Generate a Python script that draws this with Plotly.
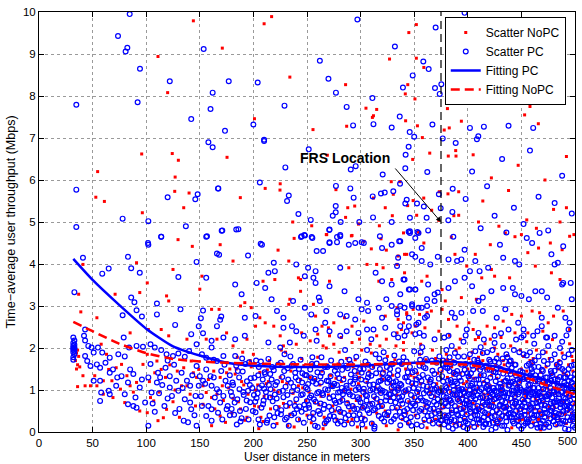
import plotly.graph_objects as go

# ---------------- data (distance in m, throughput in Mbps) ----------------
# Fitting curves
fit_x = [32, 50, 75, 100, 125, 150, 175, 200, 250, 300, 350, 375, 400, 425, 450, 475, 500]
fit_pc = [4.12, 3.62, 3.02, 2.46, 2.04, 1.82, 1.65, 1.58, 1.55, 1.58, 1.65, 1.67, 1.64, 1.56, 1.4, 1.22, 1.02]
fit_nopc = [2.62, 2.4, 2.1, 1.88, 1.74, 1.68, 1.65, 1.63, 1.61, 1.61, 1.63, 1.63, 1.6, 1.49, 1.33, 1.1, 0.9]

frs_x = 375
frs_arrow_y = 5.0
frs_label = "FRS Location"

# Scatter PC (blue circles): far outliers
pc_far = [(84.6, 9.95), (73.7, 9.43), (82.4, 9.15), (80.8, 9.06), (153.6, 9.12), (94.2, 8.65), (122, 8.35),
          (162, 8.08), (34.8, 7.79), (92, 7.85), (160, 7.69), (142, 7.45), (297, 9.82), (332, 9.18),
          (262, 8.84), (177, 8.35), (204, 8.32), (270, 8.41), (277, 8.08), (229, 7.77), (311, 7.95),
          (287, 7.74), (312, 7.33), (200, 7.32), (173.5, 7.17), (293, 7.3), (329, 7.25), (210, 6.96),
          (397, 9.98), (370, 9.63), (358.5, 8.82), (363.5, 8.64), (348.6, 8.49), (339.5, 8.2),
          (369.4, 8.19), (375.3, 8.28), (397, 8.3), (373.8, 8.05), (427, 7.87), (479.8, 8.23),
          (461, 7.24), (336.5, 7.51), (367, 7.32), (415, 7.27), (402, 7.24), (438, 7.29), (345.8, 7.14),
          (350, 7.03), (376.6, 6.99), (409.8, 7.04), (408.5, 6.97),
          (158, 6.9), (162, 6.78), (34.8, 5.77), (120, 5.59), (148, 5.66), (145.8, 5.54), (167, 5.8),
          (78, 5.08), (102, 5.02), (137, 4.9), (34.8, 4.88), (114, 4.65), (156.7, 4.66), (101.7, 4.5),
          (210, 6.93), (251.6, 6.73), (229.8, 6.3), (290.8, 6.25), (295.4, 6.33), (320.6, 6.13),
          (167.3, 5.8), (206, 5.94), (233, 5.63), (231.4, 5.5), (277, 5.86), (290.4, 5.8), (293.5, 5.58),
          (276.8, 5.38), (276.8, 5.23), (274, 5.15), (281.4, 5.0), (242, 5.19), (253.5, 5.05),
          (170.4, 4.79), (186, 4.83), (270.8, 4.81), (281, 4.69), (278, 4.64), (254.4, 4.64), (244.4, 4.64),
          (247.5, 4.69), (271, 4.52), (301, 4.52), (206.8, 4.48), (298.8, 5.0), (311.6, 5.11), (329, 5.0),
          (311.3, 5.61), (319, 5.68), (322.5, 5.7), (330.5, 5.73),
          (344.8, 6.79), (342, 6.6), (388.7, 6.88), (341.7, 6.28), (362.2, 6.19), (336.8, 5.91), (343, 5.53),
          (341.7, 5.44), (352.6, 5.44), (359, 5.37), (361.6, 5.1), (374.7, 5.33), (373, 5.66), (385.9, 5.79),
          (381.8, 5.04), (385.6, 5.24), (346, 5.1), (353, 4.76), (363, 4.8), (344.8, 4.77), (386.5, 4.65),
          (404, 6.2), (418, 5.85), (432, 6.5), (443, 5.34), (452, 4.95), (466, 5.6), (475, 4.8), (488, 6.1),
          (497, 5.2), (412, 4.85), (425, 5.15), (458, 6.7), (481, 5.45), (398, 5.55), (436, 4.75)]

# Scatter PC: middle band (about 2 - 4.8 Mbps)
pc_mid = [(33, 3.33), (41, 4.15), (59, 3.77), (65, 3.89), (83, 4.17), (86, 3.9), (94, 3.79), (86, 3.2), (89, 3.09),
          (102, 4.46), (114, 4.65), (130, 3.69), (110, 3.06), (110, 2.8), (96, 2.75), (78, 2.78), (91, 2.9),
          (147, 4.05), (156, 4.65), (171, 4.8), (132, 2.92), (127, 2.55), (153, 2.89), (151, 2.71), (149, 2.52),
          (153, 2.35), (166, 2.52), (169, 2.67), (170, 2.75), (161, 2.17), (172, 2.25), (142, 2.33), (156, 3.67),
          (166, 4.25), (168, 4.22), (43, 2.44), (42, 2.29), (43, 2.18), (46, 2.05), (49, 2.01), (55, 2.01),
          (79, 2.25), (84, 2.01), (91, 2.05), (97, 2.03), (104, 2.09), (108, 2.01), (147, 2.09), (161, 2.01),
          (184, 4.82), (208, 4.46), (195, 4.2), (245, 4.66), (248, 4.68), (255, 4.62), (271, 4.82), (281, 4.66),
          (278, 4.52), (259, 4.31), (265, 4.31), (271, 4.5), (289, 4.46), (295, 4.5), (303, 4.5), (318, 4.66),
          (320, 4.38), (329, 4.46), (337, 4.54), (346, 4.74), (351, 4.62), (354, 4.74), (348, 4.23), (357, 4.07),
          (335, 4.15), (219, 4.03), (214, 3.79), (220, 3.83), (240, 3.99), (251, 3.91), (258, 3.83), (256, 3.67),
          (258, 3.55), (248, 3.71), (281, 3.91), (285, 3.35), (271, 3.47), (261, 3.2), (314, 3.79), (320, 3.59),
          (329, 3.51), (340, 3.63), (346, 3.39), (351, 3.39), (363, 3.51), (183, 3.51), (189, 3.28), (203, 3.55),
          (211, 3.43), (217, 3.16), (237, 3.12), (248, 2.96), (254, 2.8), (262, 3.12), (268, 2.88), (281, 2.8),
          (287, 2.76), (295, 2.68), (301, 2.92), (306, 3.08), (307, 2.88), (298, 3.16), (317, 2.96), (320, 2.72),
          (324, 3.16), (329, 3.0), (334, 2.88), (341, 2.96), (348, 3.04), (357, 2.96), (362, 2.76), (354, 2.6),
          (345, 2.52), (337, 2.52), (202, 2.76), (192, 2.72), (222, 2.88), (228, 2.72), (228, 2.48), (236, 2.52),
          (240, 2.4), (247, 2.29), (258, 2.44), (267, 2.6), (271, 2.4), (281, 2.29), (287, 2.4), (298, 2.36),
          (306, 2.44), (312, 2.44), (310, 2.21), (323, 2.48), (331, 2.33), (335, 2.25), (343, 2.4), (351, 2.33),
          (359, 2.29), (183, 2.21), (192, 2.29), (214, 2.13), (225, 2.01), (234, 2.13), (259, 2.17),
          (346, 4.78), (336, 4.54), (357, 4.38), (351, 4.17), (334, 3.95), (365, 3.99), (372, 4.17), (382, 4.11),
          (390, 4.07), (394, 4.11), (397, 4.34), (407, 4.07), (402, 3.83), (411, 3.83), (419, 3.91), (430, 4.46),
          (433, 4.15), (444, 4.07), (448, 3.99), (455, 4.62), (460, 4.5), (467, 4.74), (478, 4.23), (481, 3.99),
          (484, 4.03), (489, 4.42), (489, 3.55), (496, 3.55), (497, 3.16), (341, 3.63), (337, 3.28), (345, 3.39),
          (351, 3.39), (362, 3.16), (369, 3.28), (372, 3.32), (369, 3.12), (382, 3.43), (388, 3.59), (397, 3.67),
          (404, 3.47), (410, 3.12), (414, 3.2), (422, 3.35), (433, 3.43), (442, 3.43), (444, 3.28), (450, 3.24),
          (457, 3.16), (463, 3.35), (469, 3.35), (474, 3.2), (488, 3.51), (348, 3.0), (354, 2.96), (362, 3.0),
          (337, 3.0), (334, 2.8), (345, 2.72), (352, 2.56), (360, 2.72), (385, 2.84), (388, 2.72), (394, 2.84),
          (399, 2.44), (405, 2.88), (414, 2.88), (427, 2.72), (435, 2.92), (438, 2.44), (447, 2.6), (452, 2.44),
          (469, 2.52), (469, 2.72), (484, 2.96), (491, 2.72), (494, 2.44), (495, 2.6), (481, 2.29), (474, 2.25),
          (461, 2.29), (450, 2.25), (425, 2.29), (410, 2.36), (382, 2.29), (369, 2.21), (355, 2.36), (341, 2.29)]

# Scatter PC: near users (x < 180)
pc_near = [(32, 1.72), (32, 1.78), (33, 1.85), (32, 1.9), (33, 1.93), (32, 1.96), (33, 1.98), (32, 2.0),
           (33, 2.02), (32, 2.05), (33, 2.08), (32, 2.12), (33, 2.18), (32, 2.25),
           (43, 1.81), (45, 1.69), (48, 1.57), (51, 1.89), (54, 1.61), (57, 1.53), (59, 1.89), (62, 1.65),
           (66, 1.77), (74, 1.85), (80, 1.8), (114, 1.95), (119, 1.85), (125, 1.81), (130, 1.87), (136, 1.79),
           (140, 1.93), (152, 1.85), (156, 1.77), (166, 1.69), (172, 1.81), (51, 1.22), (57, 1.22), (58, 0.94),
           (65, 0.98), (66, 0.9), (57, 0.74), (72, 1.1), (77, 1.33), (73, 1.3), (69, 1.49), (66, 1.41), (85, 1.49),
           (83, 1.18), (80, 0.9), (83, 0.66), (88, 0.62), (91, 0.58), (90, 0.82), (94, 1.06), (99, 0.7),
           (102, 0.15), (105, 0.94), (110, 1.18), (113, 1.3), (111, 1.41), (118, 1.53), (122, 1.33), (122, 1.06),
           (124, 0.86), (130, 0.98), (128, 1.22), (133, 1.41), (138, 1.22), (141, 1.1), (136, 0.78), (141, 0.7),
           (142, 0.54), (135, 0.27), (139, 0.23), (147, 0.15), (146, 0.86), (149, 1.1), (153, 1.22), (150, 1.33),
           (156, 1.49), (160, 1.33), (161, 1.1), (166, 1.02), (164, 0.82), (169, 0.7), (172, 0.86), (174, 1.22),
           (161, 0.54), (167, 0.46), (175, 0.54), (156, 0.38), (161, 0.27), (147, 1.57), (96, 1.25), (104, 1.62),
           (88, 1.38), (117, 0.62), (127, 0.45), (108, 0.48), (152, 0.62), (170, 1.45), (163, 1.72),
           (102, 1.3), (106, 0.68), (112, 0.92), (115, 1.12), (120, 0.8), (126, 1.6), (131, 0.55), (134, 1.05),
           (143, 1.35), (145, 0.4), (151, 0.85), (155, 1.15), (158, 0.62), (163, 1.3), (168, 0.95), (171, 0.3),
           (173, 1.6), (176, 1.1), (178, 0.4), (120, 1.7)]

# Scatter PC: dense cloud (x 175 - 500), first reading
pc_dense = [(176, 0.62), (178, 1.35), (179, 0.95), (181, 1.12), (182, 0.41), (184, 1.58), (185, 0.78), (187, 1.02),
            (188, 0.25), (190, 1.44), (191, 0.88), (193, 0.55), (194, 1.21), (196, 1.66), (197, 0.71), (199, 1.05),
            (183, 1.81), (189, 0.33), (195, 0.98), (180, 0.86),
            (201, 1.29), (202, 0.47), (204, 0.92), (205, 1.55), (206, 0.18), (208, 1.11), (209, 0.66), (211, 1.38),
            (212, 0.84), (214, 1.74), (215, 0.39), (216, 1.02), (218, 0.73), (219, 1.47), (221, 0.58), (222, 1.19),
            (224, 0.95), (203, 0.81), (207, 1.68), (213, 0.28), (217, 1.25), (220, 0.89), (223, 1.6), (210, 1.03),
            (226, 0.52), (227, 1.31), (228, 0.83), (230, 1.08), (231, 0.34), (232, 1.52), (234, 0.69), (235, 1.17),
            (236, 0.97), (238, 0.44), (239, 1.41), (240, 0.78), (242, 1.23), (243, 0.61), (244, 1.72), (246, 0.9),
            (247, 0.22), (248, 1.36), (249, 1.06), (229, 1.85), (233, 0.15), (237, 1.62), (241, 1.0), (245, 0.48),
            (250, 0.74),
            (251, 1.14), (252, 0.58), (253, 1.49), (254, 0.87), (256, 0.31), (257, 1.27), (258, 0.72), (259, 1.63),
            (261, 0.95), (262, 0.43), (263, 1.18), (264, 1.41), (266, 0.65), (267, 1.02), (268, 0.26), (269, 1.55),
            (271, 0.81), (272, 1.33), (273, 0.52), (274, 1.09), (255, 1.78), (260, 0.12), (265, 0.88), (270, 1.21),
            (275, 0.37),
            (276, 1.46), (277, 0.69), (278, 1.12), (279, 0.94), (281, 0.48), (282, 1.67), (283, 0.76), (284, 1.25),
            (286, 0.33), (287, 1.04), (288, 1.52), (289, 0.61), (290, 0.89), (291, 1.37), (292, 0.2), (293, 1.15),
            (294, 0.55), (296, 1.79), (297, 0.83), (298, 1.06), (299, 0.42), (280, 1.28), (285, 0.98), (295, 1.3),
            (300, 0.71),
            (301, 1.41), (302, 0.58), (303, 1.03), (304, 0.29), (305, 1.22), (306, 0.86), (307, 1.6), (308, 0.45),
            (309, 0.99), (310, 1.34), (311, 0.67), (312, 1.13), (313, 0.13), (314, 1.85), (315, 0.79), (316, 1.08),
            (317, 0.38), (318, 1.5), (319, 0.93), (320, 0.62), (321, 1.26), (322, 0.25), (323, 1.71), (324, 0.84),
            (325, 1.17), (312, 0.52), (318, 1.02), (306, 1.95),
            (326, 0.47), (327, 1.38), (328, 0.73), (329, 1.05), (330, 1.62), (331, 0.31), (332, 0.95), (333, 1.21),
            (334, 0.58), (335, 1.47), (336, 0.82), (337, 0.16), (338, 1.12), (339, 0.67), (340, 1.78), (341, 0.41),
            (342, 0.99), (343, 1.31), (344, 0.74), (345, 0.22), (346, 1.55), (347, 0.88), (348, 1.16), (349, 0.52),
            (350, 1.92), (331, 1.1), (338, 0.35), (344, 1.42), (328, 0.9), (336, 1.68),
            (351, 0.63), (352, 1.25), (353, 0.37), (354, 1.02), (355, 1.58), (356, 0.81), (357, 0.14), (358, 1.36),
            (359, 0.92), (360, 0.49), (361, 1.74), (362, 1.08), (363, 0.69), (364, 0.27), (365, 1.19), (366, 0.85),
            (367, 1.46), (368, 0.56), (369, 1.01), (370, 0.33), (371, 1.65), (372, 0.78), (373, 1.27), (374, 0.44),
            (375, 0.97), (356, 1.9), (362, 0.6), (368, 1.12), (373, 0.2), (358, 0.75), (366, 0.4),
            (376, 1.33), (377, 0.61), (378, 0.18), (379, 1.09), (380, 0.82), (381, 1.52), (382, 0.39), (383, 0.95),
            (384, 1.24), (385, 0.69), (386, 0.08), (387, 1.41), (388, 0.88), (389, 0.51), (390, 1.16), (391, 1.79),
            (392, 0.74), (393, 0.29), (394, 1.02), (395, 1.38), (396, 0.57), (397, 0.93), (398, 1.62), (399, 0.42),
            (400, 1.11), (378, 0.98), (383, 0.25), (388, 1.2), (392, 1.0), (397, 0.32), (380, 1.95), (395, 0.78),
            (385, 0.45), (399, 0.86), (377, 1.7),
            (401, 0.66), (402, 1.27), (403, 0.35), (404, 0.91), (405, 1.49), (406, 0.12), (407, 0.78), (408, 1.06),
            (409, 1.71), (410, 0.54), (411, 0.97), (412, 1.35), (413, 0.27), (414, 0.83), (415, 1.15), (416, 0.46),
            (417, 1.58), (418, 0.71), (419, 1.02), (420, 0.19), (421, 1.29), (422, 0.62), (423, 0.89), (424, 1.44),
            (425, 0.38), (403, 1.1), (407, 0.5), (411, 0.22), (414, 1.88), (418, 1.22), (422, 0.05), (405, 0.85),
            (409, 0.4), (416, 0.95), (420, 0.75), (424, 1.05), (402, 0.55), (413, 0.6), (419, 0.3), (425, 0.98),
            (426, 1.21), (427, 0.52), (428, 0.86), (429, 1.64), (430, 0.31), (431, 1.07), (432, 0.73), (433, 1.39),
            (434, 0.15), (435, 0.94), (436, 0.6), (437, 1.28), (438, 0.43), (439, 1.12), (440, 0.8), (441, 1.53),
            (442, 0.25), (443, 0.99), (444, 0.67), (445, 1.34), (446, 0.36), (447, 0.9), (448, 1.19), (449, 0.55),
            (450, 0.08), (428, 0.2), (432, 1.0), (436, 1.85), (440, 0.45), (444, 1.15), (448, 0.7), (430, 0.65),
            (434, 0.85), (438, 1.6), (442, 0.6), (446, 1.05), (427, 0.95), (439, 0.35), (449, 1.45), (435, 0.48),
            (441, 0.98), (447, 0.28),
            (451, 0.77), (452, 1.26), (453, 0.41), (454, 0.96), (455, 1.58), (456, 0.23), (457, 0.85), (458, 1.13),
            (459, 0.58), (460, 1.42), (461, 0.34), (462, 0.92), (463, 1.2), (464, 0.69), (465, 0.1), (466, 1.05),
            (467, 0.5), (468, 1.36), (469, 0.81), (470, 0.27), (471, 1.69), (472, 0.63), (473, 1.01), (474, 0.45),
            (475, 1.18), (453, 0.7), (457, 0.3), (461, 1.05), (465, 0.88), (469, 0.42), (473, 0.18), (455, 1.0),
            (459, 0.9), (463, 0.5), (467, 0.95), (471, 1.2), (475, 0.6), (452, 0.15), (458, 0.62), (466, 1.55),
            (470, 0.75), (474, 1.3), (456, 1.25), (462, 0.4), (468, 0.2),
            (476, 0.88), (477, 0.32), (478, 1.22), (479, 0.57), (480, 0.99), (481, 1.46), (482, 0.18), (483, 0.74),
            (484, 1.08), (485, 0.43), (486, 1.31), (487, 0.66), (488, 0.95), (489, 0.27), (490, 1.17), (491, 0.79),
            (492, 0.51), (493, 1.38), (494, 0.06), (495, 0.86), (496, 1.04), (497, 0.36), (498, 0.68), (499, 1.25),
            (500, 0.47), (478, 0.5), (482, 0.9), (486, 0.2), (490, 0.62), (494, 1.0), (498, 0.15), (480, 0.7),
            (484, 0.3), (488, 1.5), (492, 0.9), (496, 0.58), (477, 1.05), (481, 0.38), (485, 0.8), (489, 1.1),
            (493, 0.72), (497, 0.98), (499, 0.35), (483, 1.6), (491, 0.25),
            (380, 1.62), (390, 1.45), (402, 1.85), (410, 1.65), (418, 1.9), (427, 1.75), (433, 2.05), (440, 1.7),
            (448, 1.9), (455, 1.82), (462, 2.1), (470, 1.9), (478, 1.72), (486, 2.0), (494, 1.85), (499, 1.6),
            (385, 2.05), (396, 2.15), (412, 2.02), (425, 2.12), (445, 2.2), (460, 1.65), (475, 2.05), (490, 1.78)]

# Scatter PC: dense cloud, second reading
pc_dense2 = [(180.5, 1.18), (182.5, 0.7), (185.5, 1.45), (187.5, 0.5), (190.5, 0.95), (192.5, 1.62), (195.5, 0.3),
             (197.5, 1.28), (200.5, 0.88), (202.5, 1.7), (205.5, 1.05), (207.5, 0.58), (210.5, 1.42), (212.5, 0.22),
             (215.5, 0.82), (217.5, 1.55), (220.5, 1.12), (222.5, 0.45), (225.5, 1.65), (227.5, 0.98), (230.5, 0.62),
             (232.5, 1.25), (235.5, 0.4), (237.5, 1.08), (240.5, 0.55), (242.5, 1.5), (245.5, 1.18), (247.5, 0.65),
             (184.5, 0.18), (199.5, 0.5), (214.5, 1.12), (229.5, 0.3), (244.5, 0.88), (189.5, 1.75), (209.5, 0.75),
             (234.5, 1.8), (249.5, 1.35), (219.5, 0.35), (204.5, 1.35), (239.5, 1.3),
             (250.5, 1.02), (252.5, 0.35), (254.5, 1.62), (256.5, 0.78), (258.5, 1.15), (260.5, 0.5), (262.5, 1.32),
             (264.5, 0.92), (266.5, 0.2), (268.5, 1.22), (270.5, 0.6), (272.5, 1.7), (274.5, 0.85), (276.5, 0.28),
             (278.5, 1.38), (280.5, 0.72), (282.5, 1.05), (284.5, 0.45), (286.5, 1.58), (288.5, 0.95), (290.5, 1.2),
             (292.5, 0.62), (294.5, 1.45), (296.5, 0.3), (298.5, 0.78), (300.5, 1.25), (302.5, 0.95), (304.5, 1.68),
             (306.5, 0.52), (308.5, 1.12), (310.5, 0.2), (312.5, 0.85), (314.5, 1.4), (316.5, 0.6), (318.5, 1.22),
             (320.5, 0.98), (322.5, 0.42), (324.5, 1.55), (326.5, 0.9), (328.5, 0.25), (330.5, 1.18), (332.5, 0.7),
             (334.5, 1.35), (336.5, 0.48), (338.5, 1.62), (340.5, 0.95), (342.5, 0.3), (344.5, 1.2), (346.5, 0.62),
             (348.5, 1.42), (350.5, 0.82), (352.5, 0.18), (354.5, 1.3), (356.5, 0.55), (358.5, 1.1), (360.5, 1.52),
             (362.5, 0.38), (364.5, 0.92), (366.5, 1.7), (368.5, 0.72), (370.5, 1.05), (372.5, 0.5), (374.5, 1.48),
             (251.5, 0.65), (253.5, 1.3), (257.5, 0.15), (259.5, 0.92), (263.5, 1.78), (265.5, 0.55), (269.5, 1.0),
             (271.5, 0.38), (275.5, 1.15), (277.5, 1.55), (281.5, 0.25), (283.5, 0.9), (287.5, 0.68), (289.5, 1.72),
             (293.5, 0.4), (295.5, 1.0), (299.5, 1.5), (301.5, 0.18), (305.5, 0.75), (307.5, 1.38), (311.5, 1.02),
             (313.5, 0.55), (317.5, 1.75), (319.5, 0.32), (323.5, 0.75), (325.5, 1.3), (329.5, 0.58), (331.5, 1.82),
             (335.5, 1.05), (337.5, 0.75), (341.5, 1.3), (343.5, 0.55), (347.5, 0.15), (349.5, 1.05), (353.5, 0.75),
             (355.5, 1.72), (359.5, 0.3), (361.5, 0.98), (365.5, 1.25), (367.5, 0.2), (371.5, 0.9), (373.5, 1.8),
             (255.5, 1.2), (279.5, 0.55), (303.5, 0.62), (327.5, 1.5), (351.5, 1.15), (369.5, 0.45), (285.5, 1.95),
             (321.5, 1.9), (357.5, 2.02),
             (375.5, 0.72), (377, 1.2), (378.5, 0.4), (380, 1.05), (381.5, 0.62), (383, 1.45), (384.5, 0.3), (386, 0.9),
             (387.5, 1.65), (389, 0.15), (390.5, 0.78), (392, 1.3), (393.5, 0.55), (395, 1.02), (396.5, 1.8),
             (398, 0.25), (399.5, 1.4), (401, 0.9), (402.5, 0.48), (404, 1.15), (405.5, 0.7), (407, 1.92), (408.5, 0.3),
             (410, 1.25), (411.5, 0.82), (413, 1.55), (414.5, 0.12), (416, 0.65), (417.5, 1.08), (419, 0.42),
             (420.5, 1.48), (422, 0.95), (423.5, 0.22), (425, 1.68), (426.5, 0.8), (428, 1.32), (429.5, 0.45),
             (431, 0.98), (432.5, 1.75), (434, 0.58), (435.5, 1.22), (437, 0.05), (438.5, 0.92), (440, 1.38),
             (441.5, 0.7), (443, 0.2), (444.5, 1.6), (446, 1.0), (447.5, 0.4), (449, 1.28), (450.5, 0.62), (452, 1.85),
             (453.5, 0.85), (455, 0.3), (456.5, 1.12), (458, 0.55), (459.5, 1.5), (461, 0.78), (462.5, 1.7),
             (464, 0.18), (465.5, 0.92), (467, 1.25), (468.5, 0.65), (470, 1.45), (471.5, 0.35), (473, 0.85),
             (474.5, 1.62), (476, 0.12), (477.5, 0.68), (479, 1.35), (480.5, 0.95), (482, 0.45), (483.5, 1.15),
             (485, 1.55), (486.5, 0.58), (488, 0.2), (489.5, 0.82), (491, 1.3), (492.5, 0.62), (494, 1.5),
             (495.5, 0.28), (497, 1.18), (498.5, 0.88), (500, 1.38),
             (376, 0.28), (379, 1.55), (382, 0.12), (385, 1.18), (388, 0.62), (391, 0.4), (394, 1.6), (397, 0.68),
             (400, 0.2), (403, 1.4), (406, 0.95), (409, 0.62), (412, 1.6), (415, 0.35), (418, 1.48), (421, 0.82),
             (424, 0.6), (427, 1.5), (430, 1.15), (433, 0.6), (436, 0.25), (439, 1.68), (442, 1.2), (445, 0.5),
             (448, 0.95), (451, 1.3), (454, 0.2), (457, 1.62), (460, 0.95), (463, 1.35), (466, 0.3), (469, 1.12),
             (472, 0.45), (475, 0.9), (478, 1.4), (481, 0.7), (484, 1.25), (487, 0.95), (490, 1.45), (493, 0.35),
             (496, 1.3), (499, 0.9),
             (377.5, 0.85), (381, 0.25), (384, 0.75), (387, 1.0), (390, 0.42), (393, 0.9), (396, 0.12), (399, 0.65),
             (402, 1.0), (405, 0.22), (408, 0.5), (411, 1.15), (414, 0.7), (417, 0.2), (420, 0.98), (423, 0.48),
             (426, 0.1), (429, 0.82), (432, 0.38), (435, 0.7), (438, 1.1), (441, 0.35), (444, 0.85), (447, 0.6),
             (450, 1.0), (453, 0.5), (456, 0.75), (459, 0.15), (462, 1.05), (465, 0.6), (468, 0.85), (471, 0.1),
             (474, 0.78), (477, 0.52), (480, 0.25), (483, 1.0), (486, 0.72), (489, 0.5), (492, 1.12), (495, 0.6),
             (498, 0.42), (500, 0.1),
             (378, 2.25), (388, 1.88), (398, 2.3), (406, 1.72), (415, 2.2), (423, 1.95), (431, 2.35), (437, 1.78),
             (443, 1.95), (452, 2.3), (458, 1.9), (466, 1.8), (473, 2.25), (481, 1.85), (488, 2.15), (497, 1.95),
             (383, 1.78), (420, 1.72), (465, 2.4), (492, 2.3)]

# Scatter PC: dense cloud, third reading
pc_dense3 = [(280.8, 0.95), (282.8, 1.48), (284.8, 0.18), (286.8, 1.1), (288.8, 0.4), (290.8, 1.62), (292.8, 0.85),
             (294.8, 1.25), (296.8, 0.55), (298.8, 1.02), (300.8, 0.32), (302.8, 1.5), (304.8, 0.88), (306.8, 1.3),
             (308.8, 0.65), (310.8, 1.55), (312.8, 0.08), (314.8, 0.98), (316.8, 1.2), (318.8, 0.72), (320.8, 1.4),
             (322.8, 0.95), (324.8, 0.4), (326.8, 1.25), (328.8, 1.62), (330.8, 0.82), (332.8, 0.38), (334.8, 1.0),
             (336.8, 1.15), (338.8, 0.85), (340.8, 0.5), (342.8, 1.68), (344.8, 1.02), (346.8, 0.35), (348.8, 0.68),
             (350.8, 1.45), (352.8, 0.95), (354.8, 0.5), (356.8, 1.22), (358.8, 1.55), (360.8, 0.72), (362.8, 1.3),
             (364.8, 0.55), (366.8, 1.02), (368.8, 1.38), (370.8, 0.65), (372.8, 0.95), (374.8, 0.28), (376.8, 1.6),
             (378.8, 0.68),
             (380.3, 0.35), (381.5, 1.22), (382.7, 0.78), (383.9, 1.62), (385.1, 0.52), (386.3, 1.1), (387.5, 0.28),
             (388.7, 1.38), (389.9, 0.9), (391.1, 1.05), (392.3, 0.18), (393.5, 1.22), (394.7, 0.45), (395.9, 0.95),
             (397.1, 1.48), (398.3, 0.75), (399.5, 0.08), (400.7, 1.32), (401.9, 0.62), (403.1, 0.8), (404.3, 1.58),
             (405.5, 1.05), (406.7, 0.4), (407.9, 1.25), (409.1, 0.88), (410.3, 0.3), (411.5, 1.48), (412.7, 1.02),
             (413.9, 0.5), (415.1, 1.35), (416.3, 0.18), (417.5, 0.8), (418.7, 1.12), (419.9, 0.62), (421.1, 1.68),
             (422.3, 0.35), (423.5, 1.05), (424.7, 0.78), (425.9, 1.42), (427.1, 0.25), (428.3, 1.08), (429.5, 0.62),
             (430.7, 1.5), (431.9, 0.15), (433.1, 0.92), (434.3, 1.2), (435.5, 0.35), (436.7, 0.82), (437.9, 1.45),
             (439.1, 0.55), (440.3, 1.18), (441.5, 0.9), (442.7, 0.42), (443.9, 1.6), (445.1, 0.72), (446.3, 1.25),
             (447.5, 0.15), (448.7, 1.05), (449.9, 0.38), (451.1, 1.42), (452.3, 0.95), (453.5, 0.6), (454.7, 1.3),
             (455.9, 0.25), (457.1, 1.0), (458.3, 1.35), (459.5, 0.42), (460.7, 0.68), (461.9, 1.55), (463.1, 0.88),
             (464.3, 0.4), (465.5, 1.2), (466.7, 0.72), (467.9, 0.12), (469.1, 1.48), (470.3, 1.02), (471.5, 0.55),
             (472.7, 1.3), (473.9, 0.85), (475.1, 0.22), (476.3, 1.15), (477.5, 1.45), (478.7, 0.82), (479.9, 0.38),
             (481.1, 1.25), (482.3, 0.62), (483.5, 0.35), (484.7, 0.9), (485.9, 1.65), (487.1, 0.42), (488.3, 0.72),
             (489.5, 1.3), (490.7, 0.08), (491.9, 1.05), (493.1, 0.55), (494.3, 1.22), (495.5, 0.75), (496.7, 1.58),
             (497.9, 0.3), (499.1, 1.1),
             (201.7, 0.72), (204.7, 0.3), (208.7, 1.25), (211.7, 0.95), (215.7, 1.38), (218.7, 0.15), (221.7, 0.8),
             (225.7, 0.42), (228.7, 1.45), (231.7, 0.88), (235.7, 1.58), (238.7, 0.62), (241.7, 0.3), (245.7, 1.4),
             (248.7, 0.55), (252.7, 0.82), (255.7, 0.45), (259.7, 1.42), (262.7, 0.68), (266.7, 1.55), (269.7, 0.3),
             (272.7, 1.1), (275.7, 0.75), (278.7, 0.2), (186.7, 1.3), (193.7, 0.75), (196.7, 1.12), (179.7, 0.55)]

# Scatter NoPC (red dots): far outliers
npc_far = [(144, 9.79), (111, 8.94), (120, 8.08), (217, 9.89), (210, 9.72), (171, 9.14), (327, 8.88), (234, 8.45),
           (286, 8.27), (305, 7.71), (315, 7.68), (312, 7.53), (311, 7.49), (201, 7.46), (255.6, 7.2), (287, 7.28),
           (352, 9.7), (345, 9.51), (352, 8.9), (359, 8.68), (344, 8.27), (398.6, 8.22), (405.5, 8.09),
           (341.7, 8.05), (350.7, 7.93), (391.8, 7.93), (412.6, 7.89), (381, 7.7), (458, 7.75), (453, 7.55),
           (465.8, 7.34), (342, 7.41), (394, 7.4), (353, 7.29), (382.7, 7.24), (378, 7.19), (357.6, 7.01),
           (95.8, 6.62), (124.3, 6.63), (130, 6.47), (54.7, 6.2), (127, 6.07), (126.6, 5.73), (140, 5.69),
           (53, 5.59), (61, 5.49), (135, 5.34), (96.4, 5.22), (129.7, 4.58),
           (175.4, 6.54), (269, 6.59), (187.8, 5.58), (211, 5.8), (225, 5.91), (224.8, 5.76), (277, 5.77),
           (294.5, 5.38), (288, 5.34), (286, 5.11), (236.7, 5.0), (254.4, 4.91), (268.4, 4.7), (238, 4.61),
           (291.4, 4.67), (317.5, 4.91), (319, 4.6), (329.6, 5.15), (312, 5.57), (323, 5.34), (328.6, 5.96),
           (330.5, 5.66), (298, 4.95),
           (364.5, 6.64), (348.6, 6.49), (388.7, 6.7), (381.8, 6.57), (389, 6.57), (336.6, 5.96), (343.9, 5.39),
           (349, 5.51), (358.9, 5.57), (352.3, 5.16), (366.3, 5.28), (373.4, 5.72), (381.5, 5.67), (391.5, 5.72),
           (387, 5.15), (372.9, 5.04), (391.5, 5.16), (354, 4.76), (384.6, 4.64),
           (405, 6.6), (414, 5.5), (422, 6.05), (429, 4.9), (438, 5.75), (447, 6.35), (455, 5.05), (464, 4.85),
           (472, 6.0), (480, 5.3), (492, 6.56), (492, 5.34), (499, 4.7), (410, 5.0), (444, 4.65), (486, 5.0)]

# Scatter NoPC: middle band
npc_mid = [(41, 3.99), (37, 3.28), (39, 2.86), (54, 2.72), (94, 3.32), (101, 3.55), (91, 4.03), (119, 3.24),
           (121, 3.12), (125, 3.87), (143, 4.42), (152, 3.71), (150, 3.4), (161, 2.92), (168, 2.92), (169, 4.46),
           (85, 2.36), (102, 2.44), (114, 2.44), (121, 2.29), (71, 3.28), (156, 2.21), (166, 2.21), (175, 2.36),
           (138, 2.21),
           (292, 4.68), (268, 4.7), (303, 4.54), (310, 4.36), (324, 4.33), (341, 4.23), (359, 4.5), (223, 4.33),
           (181, 4.07), (233, 4.07), (244, 3.63), (242, 3.67), (220, 3.63), (209, 3.59), (271, 3.59), (289, 3.91),
           (306, 3.99), (315, 3.99), (321, 3.91), (334, 3.99), (341, 3.79), (357, 3.59), (317, 3.59), (329, 3.63),
           (244, 3.35), (234, 3.16), (233, 3.04), (256, 3.04), (206, 2.72), (211, 2.6), (198, 2.96), (188, 3.0),
           (192, 3.08), (258, 2.76), (275, 2.6), (264, 2.52), (270, 2.48), (285, 2.72), (303, 2.64), (292, 2.52),
           (323, 2.76), (334, 2.96), (343, 2.8), (349, 2.92), (362, 2.84), (340, 2.6), (351, 2.52), (315, 2.29),
           (324, 2.21), (334, 2.36), (299, 2.21), (292, 2.13), (282, 2.25), (271, 2.29), (260, 2.33), (245, 2.36),
           (225, 2.29), (219, 2.52), (202, 2.52), (194, 2.21), (181, 2.05), (228, 2.05), (240, 2.09), (253, 2.17),
           (265, 2.05), (275, 2.09), (309, 2.09), (318, 2.05), (340, 2.13), (356, 2.09),
           (340, 4.74), (355, 4.74), (343, 4.23), (335, 4.19), (362, 3.71), (376, 3.39), (388, 4.23), (399, 3.95),
           (407, 4.23), (421, 4.46), (422, 3.87), (425, 3.71), (435, 4.74), (450, 4.7), (456, 4.27), (466, 4.38),
           (477, 4.5), (488, 4.34), (495, 4.66), (486, 3.63), (478, 3.79), (463, 3.95), (439, 3.67), (413, 3.67),
           (408, 3.16), (394, 3.2), (379, 3.12), (376, 2.92), (366, 2.88), (355, 2.8), (343, 2.84), (335, 2.68),
           (338, 2.44), (348, 2.36), (360, 2.48), (382, 2.68), (390, 2.52), (401, 2.6), (405, 2.44), (418, 2.52),
           (425, 2.48), (433, 2.64), (441, 2.8), (450, 2.76), (460, 2.88), (467, 2.84), (475, 2.6), (480, 2.76),
           (489, 2.88), (495, 2.44), (444, 2.36), (456, 2.36), (470, 2.4), (373, 2.4), (410, 2.25), (421, 2.21),
           (393, 2.21)]

# Scatter NoPC: near users
npc_near = [(36, 1.95), (35, 1.88), (37, 1.8), (36, 1.6), (38, 1.55), (36, 1.08), (34, 1.7), (35, 1.5),
            (63, 1.85), (65, 1.49), (52, 1.34), (48, 1.1), (43, 1.1), (41, 1.34), (54, 1.1), (60, 1.22), (60, 0.9),
            (69, 0.82), (72, 1.53), (68, 1.22), (76, 1.02), (80, 0.7), (82, 1.34), (85, 1.1), (77, 1.61), (91, 1.18),
            (94, 0.5), (101, 0.46), (104, 0.82), (107, 0.74), (108, 1.41), (114, 1.49), (118, 1.3), (119, 0.54),
            (116, 0.34), (111, 0.27), (129, 1.45), (135, 1.53), (133, 1.1), (138, 1.1), (141, 0.9), (144, 1.41),
            (149, 1.49), (147, 1.3), (153, 1.1), (156, 0.94), (153, 0.66), (161, 0.82), (166, 0.9), (171, 1.1),
            (169, 1.3), (175, 1.41), (163, 1.45), (169, 0.38), (174, 0.23), (161, 0.15), (142, 1.69), (175, 1.65),
            (110, 1.69), (101, 1.85), (97, 1.61), (58, 2.09), (125, 0.72), (88, 0.95),
            (103, 1.2), (112, 0.95), (122, 1.6), (131, 0.35), (146, 0.62), (158, 1.25), (164, 0.55), (172, 0.75),
            (178, 1.5), (127, 1.0)]

# Scatter NoPC: dense cloud
npc_dense = [(177, 1.05), (180, 0.45), (183, 1.38), (186, 0.72), (189, 1.2), (192, 0.28), (195, 0.9), (198, 1.55),
             (201, 0.62), (204, 1.12), (207, 0.35), (210, 0.85), (213, 1.48), (216, 0.55), (219, 1.0), (222, 0.2),
             (225, 1.3), (228, 0.68), (231, 1.15), (234, 0.42), (237, 0.92), (240, 1.6), (243, 0.3), (246, 1.05),
             (249, 0.75), (185, 1.78), (200, 1.85), (215, 1.7), (230, 1.9), (245, 1.75), (205, 0.08), (238, 0.12),
             (252, 0.95), (255, 0.4), (258, 1.25), (261, 0.65), (264, 1.45), (267, 0.18), (270, 0.88), (273, 1.1),
             (276, 0.5), (279, 1.62), (282, 0.78), (285, 1.3), (288, 0.25), (291, 1.02), (294, 0.6), (297, 1.4),
             (300, 0.85), (303, 0.35), (306, 1.18), (309, 0.7), (312, 1.55), (315, 0.45), (318, 0.95), (321, 1.25),
             (324, 0.15), (327, 0.8), (330, 1.35), (333, 0.55), (336, 1.05), (339, 0.3), (342, 1.5), (345, 0.72),
             (348, 1.12), (351, 0.4), (354, 0.92), (357, 1.6), (360, 0.62), (363, 1.2), (366, 0.25), (369, 0.85),
             (372, 1.4), (375, 0.55), (260, 1.78), (280, 1.9), (295, 1.72), (310, 1.88), (325, 1.8), (340, 1.95),
             (355, 1.85), (370, 1.75), (265, 0.08), (305, 0.1), (335, 0.05), (362, 0.1), (290, 0.5), (320, 0.6),
             (350, 1.3), (256, 1.6), (298, 1.15), (344, 0.95),
             (377, 0.95), (379, 0.4), (381, 1.3), (383, 0.7), (385, 1.55), (387, 0.2), (389, 1.05), (391, 0.6),
             (393, 1.4), (395, 0.85), (397, 0.3), (399, 1.2), (401, 0.75), (403, 1.65), (405, 0.45), (407, 1.0),
             (409, 0.15), (411, 1.35), (413, 0.65), (415, 0.9), (417, 1.5), (419, 0.38), (421, 1.1), (423, 0.8),
             (425, 0.25), (427, 1.28), (429, 0.55), (431, 0.98), (433, 1.7), (435, 0.42), (437, 1.15), (439, 0.72),
             (441, 0.1), (443, 1.38), (445, 0.88), (447, 0.5), (449, 1.2), (451, 0.3), (453, 0.95), (455, 1.45),
             (457, 0.62), (459, 1.08), (461, 0.22), (463, 0.8), (465, 1.3), (467, 0.48), (469, 1.0), (471, 0.7),
             (473, 1.55), (475, 0.35), (477, 0.92), (479, 1.18), (481, 0.58), (483, 0.15), (485, 1.02), (487, 0.75),
             (489, 1.4), (491, 0.42), (493, 0.88), (495, 1.12), (497, 0.25), (499, 0.65), (380, 1.85), (392, 2.0),
             (404, 1.9), (416, 2.1), (428, 1.85), (440, 2.05), (452, 1.8), (464, 1.95), (476, 1.75), (488, 1.88),
             (498, 1.7), (386, 1.7), (410, 1.78), (434, 1.6), (458, 1.7), (482, 1.6), (396, 0.55), (420, 0.6),
             (444, 0.3), (468, 0.05), (492, 0.2)]

# Scatter NoPC: dense cloud, second reading
npc_dense2 = [(181, 0.8), (184, 1.5), (188, 0.55), (191, 1.12), (194, 0.35), (197, 1.7), (202, 1.0), (206, 1.42),
              (209, 0.25), (212, 1.15), (217, 0.85), (220, 1.55), (224, 0.6), (227, 1.2), (232, 0.15), (235, 1.45),
              (239, 0.7), (242, 1.1), (247, 1.58), (250, 0.4), (253, 1.3), (257, 0.7), (262, 1.12), (266, 0.35),
              (269, 1.6), (274, 0.62), (277, 1.28), (281, 0.45), (284, 0.98), (287, 1.75), (292, 0.3), (296, 0.75),
              (299, 1.3), (302, 0.58), (307, 1.6), (311, 0.2), (314, 1.05), (317, 0.7), (322, 1.45), (326, 0.38),
              (329, 1.0), (332, 1.72), (337, 0.6), (341, 0.95), (344, 0.2), (347, 1.35), (352, 0.7), (356, 1.15),
              (359, 0.25), (361, 1.72), (365, 0.95), (368, 0.5), (371, 1.15), (374, 0.15), (190, 1.9), (226, 1.95),
              (268, 2.0), (301, 1.95), (333, 2.05), (367, 1.95),
              (376, 1.45), (378, 0.25), (380, 0.78), (382, 1.1), (384, 0.5), (386, 1.35), (388, 0.9), (390, 0.22),
              (392, 1.6), (394, 0.68), (396, 1.15), (398, 0.45), (400, 1.5), (402, 0.12), (404, 0.92), (406, 1.28),
              (408, 0.6), (410, 1.05), (412, 0.3), (414, 1.7), (416, 0.82), (418, 1.15), (420, 0.42), (422, 1.35),
              (424, 0.7), (426, 1.58), (428, 0.18), (430, 0.85), (432, 1.22), (434, 0.55), (436, 1.45), (438, 0.32),
              (440, 0.95), (442, 1.65), (444, 0.62), (446, 1.12), (448, 0.28), (450, 1.5), (452, 0.75), (454, 1.25),
              (456, 0.45), (458, 0.98), (460, 1.62), (462, 0.55), (464, 1.18), (466, 0.3), (468, 1.42), (470, 0.88),
              (472, 0.15), (474, 1.05), (476, 0.6), (478, 1.38), (480, 0.4), (482, 0.92), (484, 1.5), (486, 0.3),
              (488, 1.1), (490, 0.7), (492, 1.35), (494, 0.5), (496, 0.85), (498, 1.45), (500, 0.72),
              (379, 1.7), (389, 1.95), (401, 1.75), (413, 1.88), (425, 2.0), (437, 1.82), (449, 1.95), (461, 1.75),
              (473, 1.9), (485, 1.7), (497, 1.8), (383, 2.3), (407, 2.2), (431, 2.25), (455, 2.15), (479, 2.2),
              (495, 2.1)]

# Scatter NoPC: dense cloud, third reading
npc_dense3 = [(282, 1.2), (288, 0.72), (293, 1.55), (297, 0.12), (304, 0.98), (308, 1.45), (313, 0.8), (319, 1.35),
              (323, 0.5), (328, 1.15), (334, 0.88), (338, 1.6), (343, 0.45), (349, 0.82), (353, 1.4), (358, 0.5),
              (364, 1.05), (370, 0.3), (373, 1.05), (378, 0.6), (381, 1.72), (384, 0.95), (387, 1.4), (391, 0.78),
              (394, 0.15), (398, 1.0), (402, 1.3), (405, 0.68), (409, 1.5), (412, 0.55), (415, 1.2), (419, 0.9),
              (423, 1.45), (426, 0.45), (430, 0.3), (433, 1.1), (437, 0.6), (440, 1.42), (443, 0.78), (447, 1.1),
              (451, 0.55), (454, 0.85), (458, 0.35), (461, 1.25), (465, 0.75), (469, 0.4), (472, 1.2), (476, 1.0),
              (480, 0.65), (483, 1.3), (487, 0.45), (491, 0.95), (494, 1.6), (497, 0.45), (500, 1.1), (205, 0.6),
              (214, 1.2), (223, 0.95), (233, 0.6), (244, 1.25), (254, 0.22), (263, 0.85), (272, 1.35), (278, 0.3)]

x_ticks = [0, 50, 100, 150, 200, 250, 300, 350, 400, 450, 500]
y_ticks = [0, 1, 2, 3, 4, 5, 6, 7, 8, 9, 10]

# ---------------- figure ----------------
pc_all = pc_far + pc_mid + pc_near + pc_dense + pc_dense2 + pc_dense3
npc_all = npc_far + npc_mid + npc_near + npc_dense + npc_dense2 + npc_dense3

FONT = "Liberation Sans, Arial, Helvetica, sans-serif"
TICK_SIZE = 11.5

fig = go.Figure()
fig.add_trace(go.Scatter(
    x=[p[0] for p in npc_all], y=[p[1] for p in npc_all], mode="markers", name="Scatter NoPC",
    marker=dict(symbol="square", size=3, color="#ff0000", line=dict(width=0))))
fig.add_trace(go.Scatter(
    x=[p[0] for p in pc_all], y=[p[1] for p in pc_all], mode="markers", name="Scatter PC",
    marker=dict(symbol="circle-open", size=4.8, color="#0000ff", line=dict(width=1.2, color="#0000ff"))))
fig.add_trace(go.Scatter(
    x=fit_x, y=fit_pc, mode="lines", name="Fitting PC",
    line=dict(color="#0000ff", width=2.5, shape="spline", smoothing=0.6)))
fig.add_trace(go.Scatter(
    x=fit_x, y=fit_nopc, mode="lines", name="Fitting NoPC",
    line=dict(color="#ff0000", width=2.5, dash="9px,5px", shape="spline", smoothing=0.6)))

fig.add_shape(type="line", x0=frs_x, x1=frs_x, y0=0, y1=10, xref="x", yref="y",
              line=dict(color="#000000", width=1.2, dash="8px,5px"))

# arrow (no text) and separate label
fig.add_annotation(x=frs_x, y=frs_arrow_y, xref="x", yref="y", text="", showarrow=True,
                   ax=-47, ay=-55, arrowhead=2, arrowsize=1, arrowwidth=1, arrowcolor="#000000")
fig.add_annotation(x=285.5, y=6.53, xref="x", yref="y", text="<b>" + frs_label + "</b>", showarrow=False,
                   font=dict(family=FONT, size=14, color="#000000"))

# last x tick label, kept inside the page (right-aligned at the axis end)
x_tick_text = [str(v) for v in x_ticks]
last_label = x_tick_text[-1]
x_tick_text[-1] = ""
fig.add_annotation(x=x_ticks[-1], y=0, xref="x", yref="paper", text=last_label, showarrow=False,
                   xanchor="right", yanchor="top", xshift=4, yshift=-1,
                   font=dict(family=FONT, size=TICK_SIZE, color="#000000"))

axis_common = dict(showline=True, linecolor="#000000", linewidth=1, mirror="allticks", ticks="inside",
                   ticklen=5, tickcolor="#000000", showgrid=True, gridcolor="#9a9a9a", griddash="dot",
                   gridwidth=1, zeroline=False, automargin=False,
                   tickfont=dict(family=FONT, size=TICK_SIZE, color="#000000"))

fig.update_layout(
    width=582, height=464,
    margin=dict(l=39, r=7, t=12, b=32),
    paper_bgcolor="#ffffff", plot_bgcolor="#ffffff",
    font=dict(family=FONT, size=12, color="#000000"),
    xaxis=dict(range=[0, 500], tickvals=x_ticks, ticktext=x_tick_text,
               title=dict(text="User distance in meters", font=dict(family=FONT, size=12)),
               **axis_common),
    yaxis=dict(range=[0, 10], tickvals=y_ticks, ticktext=[str(v) for v in y_ticks],
               title=dict(text="Time\u2212average user throughput (Mbps)", font=dict(family=FONT, size=12.5), standoff=4),
               **axis_common),
    legend=dict(x=0.757, y=0.988, xanchor="left", yanchor="top", bgcolor="#ffffff",
                bordercolor="#000000", borderwidth=1, font=dict(family=FONT, size=12, color="#000000"),
                itemsizing="trace", tracegroupgap=0),
    showlegend=True,
)

fig.write_html("out.html")
